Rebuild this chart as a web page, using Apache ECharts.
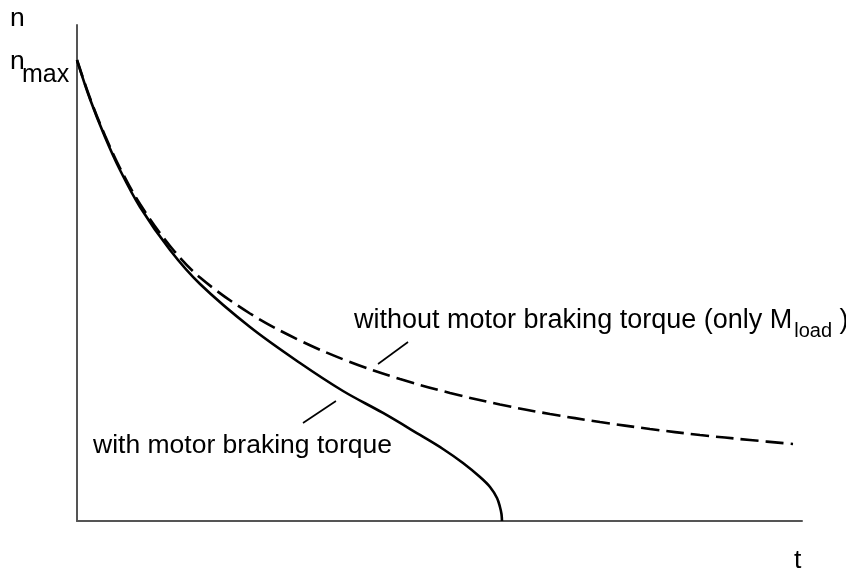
<!DOCTYPE html>
<html>
<head>
<meta charset="utf-8">
<script src="https://cdn.jsdelivr.net/npm/echarts@6/dist/echarts.min.js"></script>
<style>
  html, body { margin: 0; padding: 0; background: #fff; }
  #chart { width: 846px; height: 572px; }
</style>
</head>
<body>
<div id="chart"></div>
<script>
// Run-down of speed n (in % of n_max) over time t (arbitrary units)

// with motor braking torque
const tBraked = [0, 1.79, 3.86, 5.93, 8.69, 12.83, 16.97, 23.86, 30.76, 36.69, 42.21, 47.31, 50.48, 53.24, 55.59, 56.97, 57.93, 58.34, 58.55, 58.62];
const nBraked = [100, 91.54, 83.30, 76.14, 68.11, 58.79, 51.41, 42.08, 34.27, 28.20, 23.43, 18.66, 15.62, 12.58, 9.54, 7.38, 4.99, 3.04, 1.52, 0];

// without motor braking torque (only the load torque)
const tCoast = [0, 1.79, 3.86, 5.93, 8.69, 12.83, 16.97, 23.86, 30.76, 37.66, 44.55, 51.45, 58.34, 65.24, 72.14, 79.03, 85.93, 92.83, 98.76];
const nCoast = [100, 91.76, 83.62, 76.57, 68.76, 59.65, 52.82, 45.01, 39.15, 34.49, 30.80, 27.77, 25.27, 23.21, 21.48, 19.96, 18.66, 17.57, 16.70];

const T_MAX = 100;
const N_MAX_AXIS = 107.6;
const N_MAX = 100;

// curve captions and their leader lines (data units)
const captionBraked = { t: 2.21, n: 14.75 };
const captionCoast = { t: 38.21, n: 41.87 };
const leaderBraked = [[31.17, 21.26], [35.72, 26.03]];
const leaderCoast = [[41.52, 34.06], [45.66, 38.83]];

const FONT = '"Liberation Sans", Arial, Helvetica, sans-serif';
const INK = '#000';
const AXIS = '#555';

const chart = echarts.init(document.getElementById('chart'), null, { renderer: 'canvas' });

const pairs = (xs, ys) => xs.map((x, i) => [x, ys[i]]);

function leader(seg) {
  return [[{ coord: seg[0] }, { coord: seg[1] }]];
}

chart.setOption({
  animation: false,
  backgroundColor: '#fff',
  grid: { left: 77, right: 44, top: 25, bottom: 51 },
  xAxis: {
    type: 'value', min: 0, max: T_MAX,
    axisLine: { show: true, onZero: false, lineStyle: { color: AXIS, width: 2 } },
    axisTick: { show: false }, axisLabel: { show: false }, splitLine: { show: false }
  },
  yAxis: {
    type: 'value', min: 0, max: N_MAX_AXIS,
    axisLine: { show: true, onZero: false, lineStyle: { color: AXIS, width: 2 } },
    axisTick: { show: false }, axisLabel: { show: false }, splitLine: { show: false }
  },
  series: [
    {
      name: 'with motor braking torque',
      type: 'line',
      data: pairs(tBraked, nBraked),
      smooth: 0.35,
      showSymbol: false,
      lineStyle: { color: INK, width: 2.6, type: 'solid' },
      markLine: {
        silent: true, symbol: ['none', 'none'], label: { show: false },
        lineStyle: { color: INK, width: 1.6, type: 'solid' },
        data: leader(leaderBraked)
      }
    },
    {
      name: 'without motor braking torque',
      type: 'line',
      data: pairs(tCoast, nCoast),
      smooth: 0.35,
      showSymbol: false,
      lineStyle: { color: INK, width: 2.6, type: [18, 7] },
      markLine: {
        silent: true, symbol: ['none', 'none'], label: { show: false },
        lineStyle: { color: INK, width: 1.6, type: 'solid' },
        data: leader(leaderCoast)
      }
    }
  ]
});

// text placement helpers
const measureCtx = document.createElement('canvas').getContext('2d');
function textWidth(str, size) {
  measureCtx.font = size + 'px ' + FONT;
  return measureCtx.measureText(str).width;
}
// y of the text middle for a given baseline
const mid = (baseline, size) => baseline - 0.27 * size;
function txt(str, x, baseline, size) {
  return {
    type: 'text', silent: true, x: x, y: mid(baseline, size),
    style: { text: str, fill: INK, fontSize: size, fontFamily: FONT, align: 'left', verticalAlign: 'middle' }
  };
}
const px = (t, n) => chart.convertToPixel({ gridIndex: 0 }, [t, n]);

const MAIN = 26.5;
const CAPTION2 = 27;
const SUB = 20;
const els = [];

// axis names
const yTop = px(0, N_MAX_AXIS);
els.push(txt('n', yTop[0] - 67, yTop[1] + 1, MAIN));
const nm = px(0, N_MAX);
els.push(txt('n', nm[0] - 67, nm[1] + 9, MAIN));
els.push(txt('max', nm[0] - 55, nm[1] + 22, 25));
const xEnd = px(T_MAX, 0);
els.push(txt('t', xEnd[0] - 8, xEnd[1] + 47, MAIN));

// curve captions
const cb = px(captionBraked.t, captionBraked.n);
els.push(txt('with motor braking torque', cb[0], cb[1], MAIN));

const cc = px(captionCoast.t, captionCoast.n);
const head = 'without motor braking torque (only M';
const w1 = textWidth(head, CAPTION2);
els.push(txt(head, cc[0], cc[1], CAPTION2));
const sub = 'load';
const w2 = textWidth(sub, SUB);
els.push(txt(sub, cc[0] + w1 + 2, cc[1] + 9, SUB));
els.push(txt(' )', cc[0] + w1 + 2 + w2, cc[1], CAPTION2));

chart.setOption({ graphic: { elements: els } });
</script>
</body>
</html>
